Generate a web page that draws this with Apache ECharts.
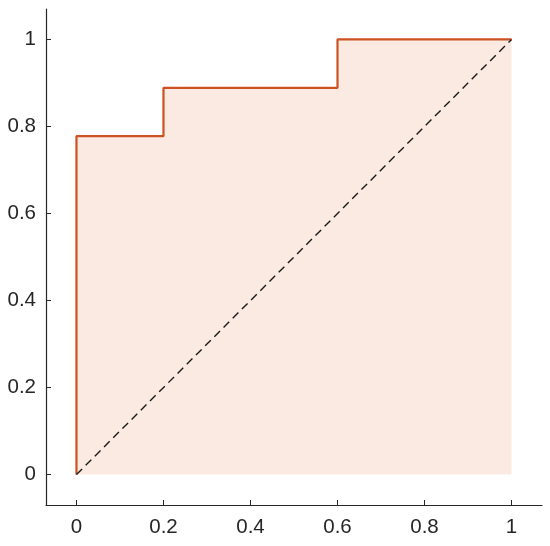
<!DOCTYPE html>
<html>
<head>
<meta charset="utf-8">
<script src="https://cdn.jsdelivr.net/npm/echarts@6/dist/echarts.min.js"></script>
<style>
  html, body { margin: 0; padding: 0; background: #fff; }
  #chart { width: 550px; height: 546px; }
</style>
</head>
<body>
<div id="chart"></div>
<script>
// ROC curve points (false positive rate, true positive rate)
const fpr = [0, 0, 0.2, 0.2, 0.6, 0.6, 1];
const tpr = [0, 0.7778, 0.7778, 0.8889, 0.8889, 1, 1];
// chance line
const chanceX = [0, 1];
const chanceY = [0, 1];
const tickValues = [0, 0.2, 0.4, 0.6, 0.8, 1];

const chart = echarts.init(document.getElementById('chart'));

const axisCommon = {
  type: 'value',
  min: -0.07,
  max: 1.07,
  splitLine: { show: false },
  axisLine: { show: true, onZero: false, lineStyle: { color: '#262626', width: 1.2 } },
  axisTick: { show: true, inside: true, length: 5, customValues: tickValues, lineStyle: { color: '#262626' } },
  axisLabel: {
    customValues: tickValues,
    color: '#262626',
    fontSize: 20.5,
    fontFamily: 'Liberation Sans, Arial, sans-serif',
    formatter: v => String(+v.toFixed(2))
  }
};

chart.setOption({
  animation: false,
  grid: { left: 46, right: 8, top: 9, bottom: 41, containLabel: false },
  xAxis: Object.assign({}, axisCommon, {
    axisLabel: Object.assign({}, axisCommon.axisLabel, { margin: 12 })
  }),
  yAxis: Object.assign({}, axisCommon, {
    axisLabel: Object.assign({}, axisCommon.axisLabel, { margin: 10 })
  }),
  series: [
    {
      type: 'line',
      data: fpr.map((x, i) => [x, tpr[i]]),
      showSymbol: false,
      lineStyle: { color: '#cc5222', width: 2.2 },
      areaStyle: { color: '#fbeae2', opacity: 1, origin: 0 },
      z: 2
    },
    {
      type: 'line',
      data: chanceX.map((x, i) => [x, chanceY[i]]),
      showSymbol: false,
      lineStyle: { color: '#1a1a1a', width: 1.4, type: [8, 5] },
      z: 3
    }
  ]
});
</script>
</body>
</html>
